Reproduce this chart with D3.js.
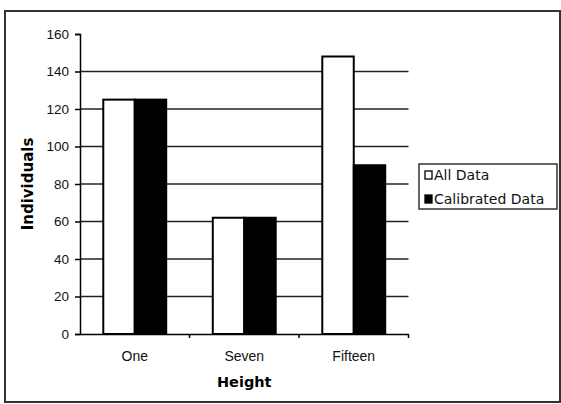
<!DOCTYPE html>
<html>
<head>
<meta charset="utf-8">
<title>Individuals by height</title>
<style>
  body { margin: 0; background: #fff; }
  svg { font-family: "DejaVu Sans", Verdana, sans-serif; }
</style>
</head>
<body>
<svg width="561" height="404"></svg>
<script src="https://cdn.jsdelivr.net/npm/d3@7"></script>
<script>
  // data
  const categories = ["One", "Seven", "Fifteen"]
  const series = ["All Data", "Calibrated Data"]
  const allData = [125, 62, 148]
  const calibratedData = [125, 62, 90]
  const yTicks = [0, 20, 40, 60, 80, 100, 120, 140, 160]

  const values = [allData, calibratedData]
  const fills = ["#fff", "#000"]

  const svg = d3.select("svg")

  // outer frame
  svg.append("rect")
    .attr("x", 5).attr("y", 11).attr("width", 555).attr("height", 391)
    .attr("fill", "none").attr("stroke", "#333").attr("stroke-width", 2)

  const pLeft = 80, pRight = 408.5, pTop = 34, pBottom = 334

  const x = d3.scaleBand().domain(categories).range([pLeft, pRight]).paddingInner(0).paddingOuter(0)
  const y = d3.scaleLinear().domain([0, 160]).range([pBottom, pTop])
  const groupW = x.bandwidth() / 1.74
  const x1 = d3.scaleBand().domain(series).range([0, groupW])

  // gridlines
  svg.append("g").selectAll("line").data(yTicks.filter(d => d > 0 && d < 160)).enter().append("line")
    .attr("x1", pLeft).attr("x2", pRight)
    .attr("y1", d => y(d)).attr("y2", d => y(d))
    .attr("stroke", "#222").attr("stroke-width", 1.6)

  // bars
  series.forEach((s, i) => {
    svg.append("g").selectAll("rect").data(categories).enter().append("rect")
      .attr("x", c => x(c) + (x.bandwidth() - groupW) / 2 + x1(s))
      .attr("y", (c, j) => y(values[i][j]))
      .attr("width", x1.bandwidth())
      .attr("height", (c, j) => y(0) - y(values[i][j]))
      .attr("fill", fills[i]).attr("stroke", "#000").attr("stroke-width", 2)
  })

  // y axis
  const yAxis = svg.append("g").attr("transform", `translate(${pLeft},0)`)
    .call(d3.axisLeft(y).tickValues(yTicks).tickSize(5).tickPadding(6))
  yAxis.select(".domain").attr("stroke-width", 1.5)
  yAxis.selectAll(".tick line").attr("stroke-width", 1.5)
  yAxis.selectAll("text").style("font-size", "13.5px").attr("fill", "#111")

  // x axis
  const xAxis = svg.append("g").attr("transform", `translate(0,${pBottom})`)
    .call(d3.axisBottom(x).tickSize(0).tickPadding(17))
  xAxis.select(".domain").attr("stroke-width", 1.5)
  xAxis.selectAll("text").style("font-size", "14px").attr("fill", "#111")
  xAxis.selectAll(".bnd").data(categories).enter().append("line")
    .attr("x1", c => x(c) + x.bandwidth()).attr("x2", c => x(c) + x.bandwidth())
    .attr("y1", 0).attr("y2", 4).attr("stroke", "#000").attr("stroke-width", 1.5)

  // axis titles
  svg.append("text")
    .attr("x", (pLeft + pRight) / 2).attr("y", 387)
    .attr("text-anchor", "middle")
    .style("font-size", "14.5px").style("font-weight", "bold")
    .text("Height")
  svg.append("text")
    .attr("transform", `translate(33,${(pTop + pBottom) / 2}) rotate(-90)`)
    .attr("text-anchor", "middle")
    .style("font-size", "15px").style("font-weight", "bold")
    .text("Individuals")

  // legend
  const lg = svg.append("g").attr("transform", "translate(419,164)")
  lg.append("rect").attr("width", 138).attr("height", 45)
    .attr("fill", "#fff").attr("stroke", "#333").attr("stroke-width", 1.5)
  series.forEach((s, i) => {
    const row = lg.append("g").attr("transform", `translate(6,${11 + i * 24})`)
    row.append("rect").attr("x", 0).attr("y", -4).attr("width", 7).attr("height", 8)
      .attr("fill", fills[i]).attr("stroke", "#000").attr("stroke-width", 1.3)
    row.append("text").attr("x", 9).attr("dy", "0.36em")
      .style("font-size", "14px").attr("fill", "#111").text(s)
  })
</script>
</body>
</html>
